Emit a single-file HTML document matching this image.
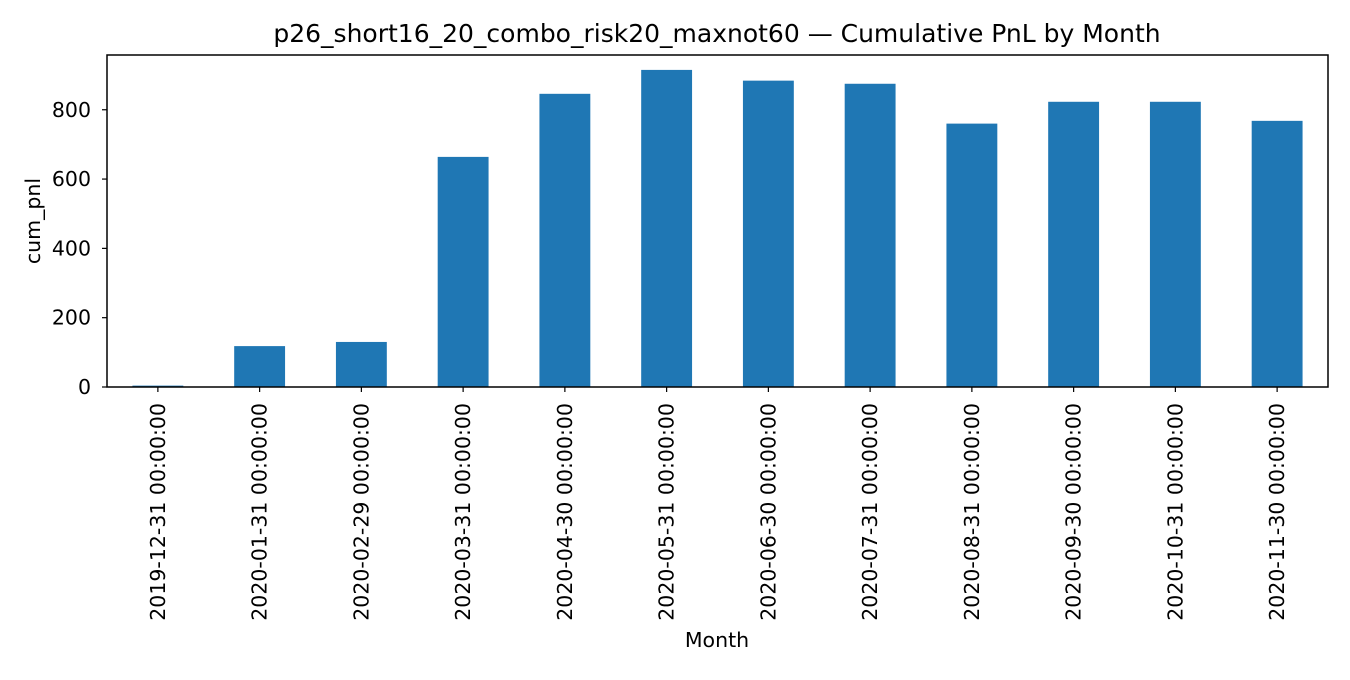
<!DOCTYPE html>
<html><head><meta charset="utf-8"><style>
html,body{margin:0;padding:0;background:#fff;}
svg text{font-family:"DejaVu Sans","Liberation Sans",sans-serif;fill:#000;}
</style></head><body>
<svg id="chart" width="1350" height="675" xmlns="http://www.w3.org/2000/svg">
<rect width="1350" height="675" fill="#fff"/>
<text x="717" y="42" font-size="25" text-anchor="middle">p26_short16_20_combo_risk20_maxnot60 — Cumulative PnL by Month</text>
<g id="bars"></g>
<g id="yticks"></g>
<g id="xticks"></g>
<rect x="107" y="55" width="1221" height="332" fill="none" stroke="#000" stroke-width="1.5"/>
<text x="40" y="221" font-size="20.5" text-anchor="middle" transform="rotate(-90 40 221)">cum_pnl</text>
<text x="717" y="647" font-size="20.5" text-anchor="middle">Month</text>
</svg>
<script>
const categories=["2019-12-31 00:00:00","2020-01-31 00:00:00","2020-02-29 00:00:00","2020-03-31 00:00:00","2020-04-30 00:00:00","2020-05-31 00:00:00","2020-06-30 00:00:00","2020-07-31 00:00:00","2020-08-31 00:00:00","2020-09-30 00:00:00","2020-10-31 00:00:00","2020-11-30 00:00:00"];
const values=[4,118,130,664,846,915,884,875,760,823,823,768];
const yTicks=[0,200,400,600,800];
const NS="http://www.w3.org/2000/svg";
const L=107,R=1328,T=55,B=387;
const yMin=0,yMax=958;
function y(v){return B-(v-yMin)/(yMax-yMin)*(B-T);}
const slot=(R-L)/categories.length;
function xc(i){return L+slot*(i+0.5);}
function mk(t,a,p){const e=document.createElementNS(NS,t);for(const k in a)e.setAttribute(k,a[k]);p.appendChild(e);return e;}
const gb=document.getElementById('bars'),gy=document.getElementById('yticks'),gx=document.getElementById('xticks');
values.forEach((v,i)=>{
  const r=mk('rect',{x:xc(i)-slot*0.25,y:y(v),width:slot*0.5,height:y(0)-y(v),fill:'#1f77b4'},gb);
  
  
});
yTicks.forEach(t=>{
  const l=mk('line',{x1:L-5,x2:L,y1:y(t),y2:y(t),stroke:'#000','stroke-width':1.2},gy);
  
  
  const tx=mk('text',{x:L-16,y:y(t)+7,'font-size':20.5,'text-anchor':'end'},gy);
  tx.textContent=t;
  
  
});
categories.forEach((c,i)=>{
  const x=xc(i);
  const l=mk('line',{x1:x,x2:x,y1:B,y2:B+5,stroke:'#000','stroke-width':1.2},gx);
  
  
  const tx=mk('text',{x:x+7,y:B+16,'font-size':20.5,'text-anchor':'end',transform:`rotate(-90 ${x+7} ${B+16})`},gx);
  tx.textContent=c;
  
  
});
</script>
</body></html>
